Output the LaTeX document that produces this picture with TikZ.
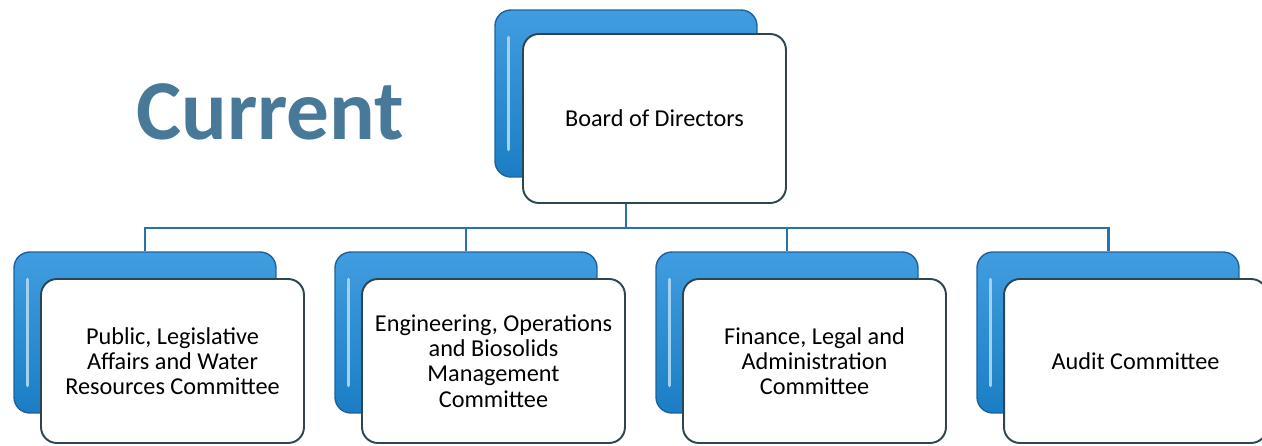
\documentclass[tikz,border=0pt]{standalone}
\usepackage{fontspec}
\setmainfont{Carlito}
\usetikzlibrary{positioning}
\definecolor{boxblue}{RGB}{30,140,218}
\definecolor{edgeblue}{RGB}{28,98,158}
\definecolor{linkblue}{RGB}{40,115,170}
\definecolor{rimgray}{RGB}{45,70,80}
\definecolor{titleblue}{RGB}{72,121,153}
\tikzset{>=stealth,
  backbox/.style={rounded corners=9pt, draw=edgeblue, line width=0.8pt,
    top color=boxblue!85!white, bottom color=boxblue!90!black,
    minimum width=5.24cm, minimum height=3.22cm, inner sep=0pt},
  frontbox/.style={rounded corners=9pt, draw=rimgray, line width=1.1pt, fill=white,
    minimum width=5.26cm, minimum height=3.28cm, align=center,
    font=\fontsize{13.8}{14.4}\selectfont},
  link/.style={draw=linkblue, line width=1.7pt},
  shine/.style={line width=2pt, line cap=round, draw=white!60!boxblue}
}
\begin{document}
\begin{tikzpicture}[x=0.02cm, y=-0.02cm]
\useasboundingbox (0,0) rectangle (1262,446);
\coordinate (rail) at (0,228);
% board
\node[backbox, minimum height=3.34cm] (boardback) at (626,93.5) {};
\draw[shine] ([xshift=8pt,yshift=-16pt]boardback.north west) -- ([xshift=8pt,yshift=16pt]boardback.south west);
\node[frontbox, minimum height=3.38cm] (board) at (654.5,118.5) {Board of Directors};
\node[anchor=base west, text=titleblue, font=\fontsize{48.5}{50}\selectfont\bfseries] (title) at (130,140) {Current};
% committees
\foreach \name/\txt [count=\i from 0] in {pla/{Public, Legislative\\Affairs and Water\\Resources Committee},
    eob/{Engineering, Operations\\and Biosolids\\Management\\Committee},
    fla/{Finance, Legal and\\Administration\\Committee},
    aud/{Audit Committee}} {
  \node[backbox] (\name back) at (145+321*\i,332.5) {};
  \draw[shine] ([xshift=8pt,yshift=-16pt]\name back.north west) -- ([xshift=8pt,yshift=16pt]\name back.south west);
  \draw[link] (boardback |- board.south) |- (rail -| \name back) -- (\name back.north);
  \node[frontbox] (\name) at (172.5+321*\i,361) {\txt};
}
\end{tikzpicture}
\end{document}
